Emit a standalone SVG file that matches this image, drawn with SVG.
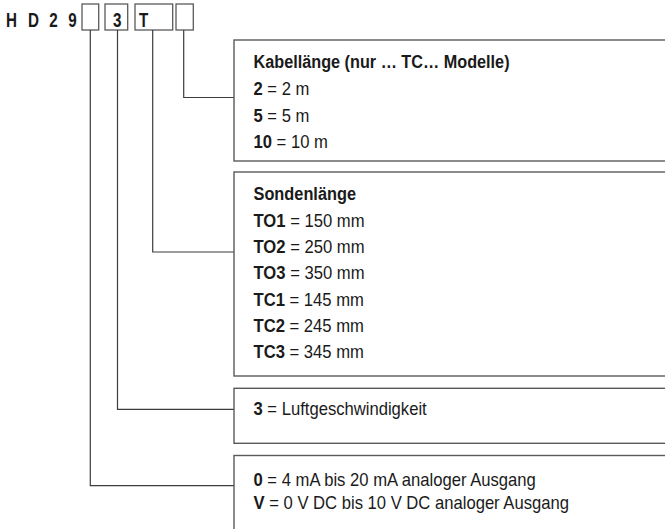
<svg xmlns="http://www.w3.org/2000/svg" width="665" height="529" viewBox="0 0 665 529">
<style>
.box{fill:#fff;stroke:#5a5a5a;stroke-width:1.4}
.cell{fill:none;stroke:#5a5a5a;stroke-width:1.3}
.ln{fill:none;stroke:#3c3c3c;stroke-width:1.2}
text{font-family:"Liberation Sans",Arial,sans-serif;fill:#1a1a1a}
.t{font-size:19px}
.code{font-size:19.5px;font-weight:bold}
.b{font-weight:bold}
</style>
<rect width="665" height="529" fill="#fff"/>
<g id="code">
<rect class="cell" x="82" y="4" width="16.7" height="26"/>
<rect class="cell" x="105" y="4" width="22.7" height="26"/>
<rect class="cell" x="135" y="4" width="37.7" height="26"/>
<rect class="cell" x="176" y="4" width="17.3" height="26"/>
<g transform="scale(0.78,1)">
<text class="code" x="7.7 35.9 63.2 87.6" y="27.3">HD29</text>
<text class="code" x="144.9" y="27.3">3</text>
<text class="code" x="178.2" y="27.3">T</text>
</g>
</g>
<g id="connectors">
<polyline class="ln" points="183.7,30 183.7,97.5 234,97.5"/>
<polyline class="ln" points="152.7,30 152.7,252 234,252"/>
<polyline class="ln" points="117.5,30 117.5,409.3 234,409.3"/>
<polyline class="ln" points="90.3,30 90.3,485.7 234,485.7"/>
</g>
<g id="kabel">
<rect class="box" x="234" y="40" width="440" height="121"/>
<g transform="translate(253.5,0) scale(0.855,1)">
<text class="t b" x="0" y="68.5">Kabellänge (nur … TC… Modelle)</text>
</g>
<g transform="translate(253.5,0) scale(0.875,1)">
<text class="t" x="0" y="95.5"><tspan class="b">2</tspan> = 2 m</text>
<text class="t" x="0" y="122"><tspan class="b">5</tspan> = 5 m</text>
<text class="t" x="0" y="148.5"><tspan class="b">10</tspan> = 10 m</text>
</g>
</g>
<g id="sonde">
<rect class="box" x="234" y="172" width="440" height="204"/>
<g transform="translate(253.5,0) scale(0.86,1)">
<text class="t b" x="0" y="200.5">Sondenlänge</text>
</g>
<g transform="translate(253.5,0) scale(0.875,1)">
<text class="t" x="0" y="227"><tspan class="b">TO1</tspan> = 150 mm</text>
<text class="t" x="0" y="253.3"><tspan class="b">TO2</tspan> = 250 mm</text>
<text class="t" x="0" y="279.5"><tspan class="b">TO3</tspan> = 350 mm</text>
<text class="t" x="0" y="305.7"><tspan class="b">TC1</tspan> = 145 mm</text>
<text class="t" x="0" y="332"><tspan class="b">TC2</tspan> = 245 mm</text>
<text class="t" x="0" y="358.5"><tspan class="b">TC3</tspan> = 345 mm</text>
</g>
</g>
<g id="luft">
<rect class="box" x="234" y="388.3" width="440" height="55"/>
<g transform="translate(253.5,0) scale(0.875,1)">
<text class="t" x="0" y="415.5"><tspan class="b">3</tspan> = Luftgeschwindigkeit</text>
</g>
</g>
<g id="ausgang">
<rect class="box" x="234" y="455.5" width="440" height="90"/>
<g transform="translate(253.5,0) scale(0.875,1)">
<text class="t" x="0" y="486.5"><tspan class="b">0</tspan> = 4 mA bis 20 mA analoger Ausgang</text>
<text class="t" x="0" y="509.5"><tspan class="b">V</tspan> = 0 V DC bis 10 V DC analoger Ausgang</text>
</g>
</g>
</svg>
